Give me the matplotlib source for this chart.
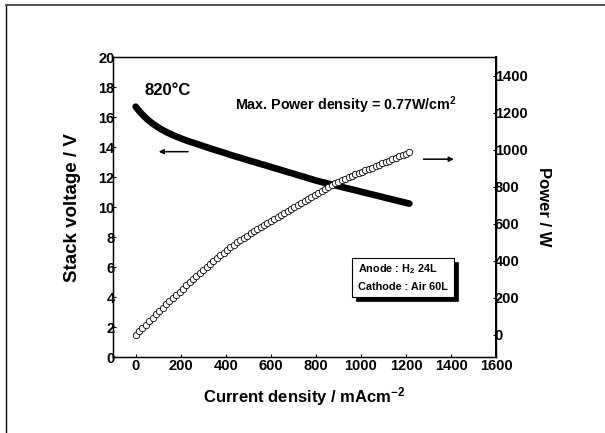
import matplotlib
matplotlib.use("Agg")
import matplotlib.pyplot as plt
from matplotlib.patches import Rectangle
from matplotlib.lines import Line2D

plt.rcParams['font.family'] = ['Liberation Sans', 'DejaVu Sans']
plt.rcParams['font.weight'] = 'bold'
plt.rcParams['mathtext.fontset'] = 'custom'
plt.rcParams['mathtext.rm'] = 'Liberation Sans:bold'
plt.rcParams['mathtext.bf'] = 'Liberation Sans:bold'
plt.rcParams['mathtext.default'] = 'bf'

# current density (mA/cm2)
current = [0, 15, 30, 45, 60, 75, 90, 105, 120, 135, 150, 165, 180, 195, 210,
           225, 240, 255, 270, 285, 300, 315, 330, 345, 360, 375, 390, 405, 420,
           435, 450, 465, 480, 495, 510, 525, 540, 555, 570, 585, 600, 615, 630,
           645, 660, 675, 690, 705, 720, 735, 750, 765, 780, 795, 810, 825, 840,
           855, 870, 885, 900, 915, 930, 945, 960, 975, 990, 1005, 1020, 1035,
           1050, 1065, 1080, 1095, 1110, 1125, 1140, 1155, 1170, 1185, 1200, 1215]

# stack voltage (V)
voltage = [16.70, 16.42, 16.17, 15.95, 15.75, 15.57, 15.42, 15.27, 15.14, 15.02,
           14.91, 14.81, 14.71, 14.62, 14.53, 14.45, 14.37, 14.30, 14.22, 14.15,
           14.07, 14.00, 13.92, 13.85, 13.78, 13.71, 13.64, 13.57, 13.49, 13.42,
           13.35, 13.29, 13.22, 13.15, 13.08, 13.02, 12.95, 12.88, 12.82, 12.75,
           12.68, 12.61, 12.55, 12.48, 12.41, 12.34, 12.28, 12.21, 12.14, 12.07,
           12.01, 11.94, 11.87, 11.80, 11.74, 11.68, 11.63, 11.57, 11.51, 11.46,
           11.40, 11.35, 11.29, 11.24, 11.18, 11.13, 11.07, 11.01, 10.96, 10.90,
           10.85, 10.79, 10.74, 10.68, 10.62, 10.57, 10.51, 10.46, 10.40, 10.35,
           10.29, 10.24]

# stack power (W)
power = [0, 19, 38, 56, 75, 94, 112, 130, 148, 165, 183, 200, 217, 234, 251,
         269, 286, 303, 320, 336, 353, 369, 385, 400, 415, 430, 445, 460, 474,
         488, 501, 513, 525, 537, 549, 561, 572, 583, 594, 606, 617, 628, 639,
         650, 661, 671, 682, 692, 703, 713, 724, 735, 746, 757, 768, 779, 790,
         800, 810, 819, 828, 836, 844, 852, 859, 867, 874, 882, 889, 897, 904,
         912, 919, 927, 934, 942, 949, 957, 964, 972, 979, 987]

fig = plt.figure(figsize=(6.05, 4.33), dpi=100)
ax = fig.add_axes([0.187, 0.175, 0.633, 0.693])
ax2 = ax.twinx()

ax.plot(current, voltage, color='black', linewidth=4.8, solid_capstyle='round')
ax2.plot(current, power, linestyle='none', marker='o', markersize=4.6,
         markerfacecolor='white', markeredgecolor='black', markeredgewidth=0.6)

ax.set_xlim(-100, 1600)
ax.set_ylim(0, 20)
ax2.set_ylim(-120, 1500)
ax.set_xticks(range(0, 1601, 200))
ax.set_yticks(range(0, 21, 2))
ax2.set_yticks(range(0, 1401, 200))

ax.tick_params(axis='both', labelsize=10.5, length=2, direction='in', pad=1)
ax.tick_params(axis='y', pad=-1)
ax2.tick_params(axis='y', labelsize=10.5, length=2, direction='in', pad=-1)
for lab in ax.get_xticklabels() + ax.get_yticklabels() + ax2.get_yticklabels():
    lab.set_fontweight('bold')

for sp in ax.spines.values():
    sp.set_linewidth(1.0)
ax2.spines['right'].set_linewidth(1.4)

ax.set_xlabel('Current density / mAcm$^{-2}$', fontsize=12, fontweight='bold', labelpad=9)
ax.set_ylabel('Stack voltage / V', fontsize=13.5, fontweight='bold', labelpad=12)
ax2.set_ylabel('Power / W', fontsize=12, fontweight='bold', rotation=-90, labelpad=17)

ax.text(38, 17.8, '820°C', fontsize=12, fontweight='bold', va='center')
ax.text(443, 16.8, 'Max. Power density = 0.77W/cm$^{2}$', fontsize=10.3,
        fontweight='bold', va='center')

ax.annotate('', xy=(90, 13.7), xytext=(245, 13.7),
            arrowprops=dict(arrowstyle='-|>', color='black', lw=1.1, mutation_scale=7))
ax.annotate('', xy=(1425, 13.2), xytext=(1265, 13.2),
            arrowprops=dict(arrowstyle='-|>', color='black', lw=1.1, mutation_scale=7))

# legend-like box with shadow
bx0, by0 = 0.623, 0.200
bw, bh = 0.267, 0.130
ax.add_patch(Rectangle((bx0 + 0.010, by0 - 0.012), bw, bh, transform=ax.transAxes,
                       facecolor='black', edgecolor='black', linewidth=0.5, zorder=5))
ax.add_patch(Rectangle((bx0, by0), bw, bh, transform=ax.transAxes,
                       facecolor='white', edgecolor='black', linewidth=0.8, zorder=6))
ax.text(bx0 + 0.017, by0 + 0.095, 'Anode : H$_{2}$ 24L', transform=ax.transAxes,
        fontsize=7.8, fontweight='bold', va='center', zorder=7)
ax.text(bx0 + 0.017, by0 + 0.033, 'Cathode : Air 60L', transform=ax.transAxes,
        fontsize=7.8, fontweight='bold', va='center', zorder=7)

# scanned page frame (left and top edges)
fig.add_artist(Line2D([6 / 605, 6 / 605], [0, 1 - 5 / 433], transform=fig.transFigure,
                      color='black', linewidth=1.0))
fig.add_artist(Line2D([6 / 605, 1], [1 - 5 / 433, 1 - 5 / 433], transform=fig.transFigure,
                      color='#333333', linewidth=1.2))

fig.savefig('out.png', dpi=100)
